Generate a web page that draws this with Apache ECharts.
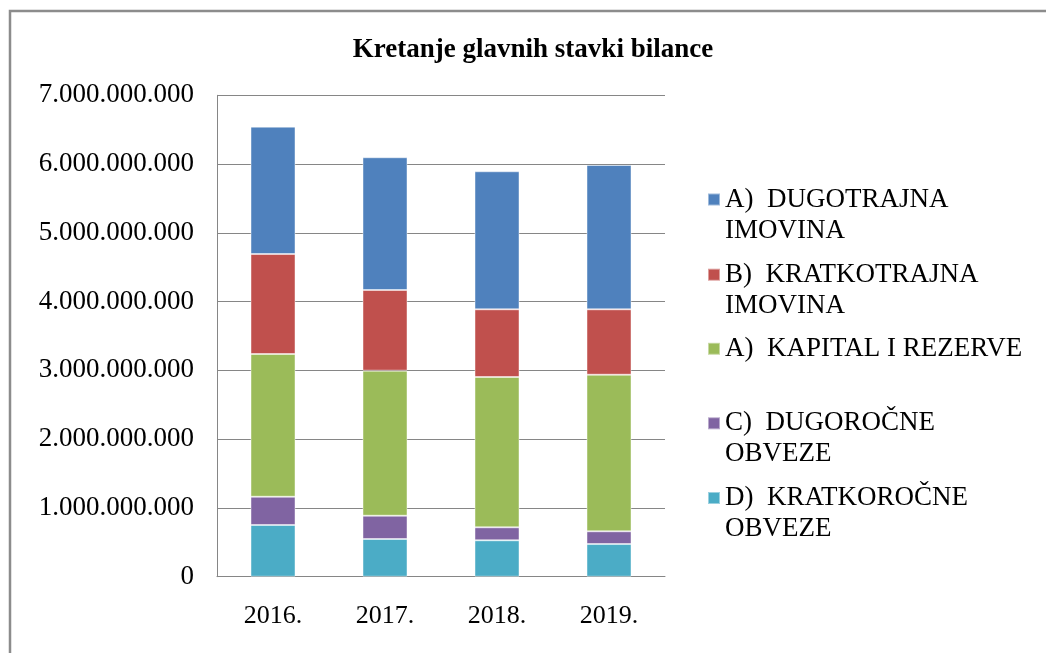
<!DOCTYPE html>
<html>
<head>
<meta charset="utf-8">
<script src="https://cdn.jsdelivr.net/npm/echarts@6/dist/echarts.min.js"></script>
<style>html,body{margin:0;padding:0;background:#fff}#c{width:1046px;height:653px}</style>
</head>
<body>
<div id="c"></div>
<script>
const titleText = 'Kretanje glavnih stavki bilance';
const categories = ['2016.', '2017.', '2018.', '2019.'];
const yTicks = [0, 1000000000, 2000000000, 3000000000, 4000000000, 5000000000, 6000000000, 7000000000];

const kratkorocneObveze = [752000000, 548000000, 529000000, 475000000];
const dugorocneObveze = [411000000, 339000000, 189000000, 185000000];
const kapitalRezerve = [2075000000, 2109000000, 2186000000, 2277000000];
const kratkotrajnaImovina = [1454000000, 1173000000, 984000000, 951000000];
const dugotrajnaImovina = [1852000000, 1930000000, 2007000000, 2099000000];

const seriesNames = ['D) KRATKOROČNE OBVEZE', 'C) DUGOROČNE OBVEZE', 'A) KAPITAL I REZERVE', 'B) KRATKOTRAJNA IMOVINA', 'A) DUGOTRAJNA IMOVINA'];
const legendLabels = ['D)  KRATKOROČNE\nOBVEZE', 'C)  DUGOROČNE\nOBVEZE', 'A)  KAPITAL I REZERVE', 'B)  KRATKOTRAJNA\nIMOVINA', 'A)  DUGOTRAJNA\nIMOVINA'];
const seriesData = [kratkorocneObveze, dugorocneObveze, kapitalRezerve, kratkotrajnaImovina, dugotrajnaImovina];
const colors = ['#4BACC6', '#8064A2', '#9BBB59', '#C0504D', '#4F81BD'];

const FONT = '"Liberation Serif", "Times New Roman", serif';
function fmt(v) {
  return String(Math.round(v)).replace(/\B(?=(\d{3})+(?!\d))/g, '.');
}

// legend tops (marker centre aligned with first text line)
const legendTops = [451.5, 376.8, 333.3, 228.2, 153];

const legends = seriesNames.map((n, i) => {
  const twoLine = legendLabels[i].indexOf('\n') >= 0;
  return {
    data: [n],
    orient: 'vertical',
    left: 707,
    top: legendTops[i],
    padding: 0,
    itemGap: 0,
    itemWidth: 12,
    itemHeight: 12,
    icon: 'rect',
    selectedMode: false,
    // an empty leading line keeps the marker level with the first text line
    formatter: () => (twoLine ? ' \n' : '') + legendLabels[i],
    textStyle: {
      fontFamily: FONT,
      fontSize: 27,
      lineHeight: 31,
      color: '#000'
    }
  };
});

const chart = echarts.init(document.getElementById('c'), null, {renderer: 'canvas'});
chart.setOption({
  animation: false,
  backgroundColor: '#fff',
  title: {
    text: titleText,
    left: 528,
    top: 32,
    textAlign: 'center',
    textStyle: {fontFamily: FONT, fontSize: 27, fontWeight: 'bold', color: '#000'}
  },
  graphic: [{
    type: 'rect',
    shape: {x: 10, y: 11, width: 1100, height: 700},
    style: {fill: 'none', stroke: '#8c8c8c', lineWidth: 2.5},
    silent: true,
    z: 100
  }],
  legend: legends,
  grid: {left: 217, right: 381, top: 95.3, bottom: 76.3, containLabel: false},
  xAxis: {
    type: 'category',
    data: categories,
    axisLine: {lineStyle: {color: '#868686', width: 1}},
    axisTick: {show: false},
    axisLabel: {fontFamily: FONT, fontSize: 26, color: '#000', margin: 26}
  },
  yAxis: {
    type: 'value',
    min: yTicks[0],
    max: yTicks[yTicks.length - 1],
    interval: yTicks[1] - yTicks[0],
    axisLine: {show: true, lineStyle: {color: '#868686', width: 1}},
    axisTick: {show: false},
    splitLine: {lineStyle: {color: '#868686', width: 1}},
    axisLabel: {fontFamily: FONT, fontSize: 27, color: '#000', margin: 23, formatter: fmt}
  },
  series: seriesNames.map((n, i) => ({
    name: n,
    type: 'bar',
    stack: 'total',
    barWidth: 45,
    data: seriesData[i],
    itemStyle: {color: colors[i], borderColor: 'rgba(255,255,255,0.45)', borderWidth: 1}
  }))
});
</script>
</body>
</html>
